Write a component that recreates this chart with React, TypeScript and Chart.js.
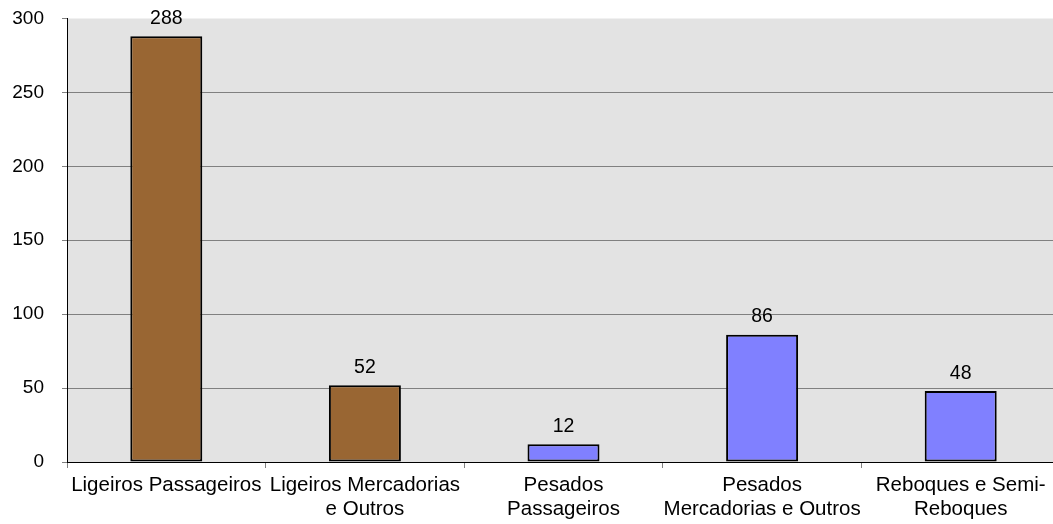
import React, { useEffect, useRef } from "react";
import { Chart, registerables } from "chart.js";

Chart.register(...registerables);

const categories: (string | string[])[] = [
  "Ligeiros Passageiros",
  ["Ligeiros Mercadorias", "e Outros"],
  ["Pesados", "Passageiros"],
  ["Pesados", "Mercadorias e Outros"],
  ["Reboques e Semi-", "Reboques"],
];
const values: number[] = [288, 52, 12, 86, 48];
const barColors: string[] = ["#996633", "#996633", "#8080FF", "#8080FF", "#8080FF"];
const yMin = 0;
const yMax = 300;
const yStep = 50;

const FONT = "'Liberation Sans', Arial, Helvetica, sans-serif";

const bgPlugin = {
  id: "plotBg",
  beforeDraw(chart: any) {
    const { ctx, chartArea } = chart;
    if (!chartArea) return;
    ctx.save();
    ctx.fillStyle = "rgb(227,227,227)";
    ctx.fillRect(chartArea.left, chartArea.top, chartArea.right - chartArea.left, chartArea.bottom - chartArea.top);
    ctx.restore();
  },
};

const valueLabelPlugin = {
  id: "valueLabels",
  afterDatasetsDraw(chart: any) {
    const { ctx } = chart;
    const meta = chart.getDatasetMeta(0);
    ctx.save();
    ctx.font = `19.5px ${FONT}`;
    ctx.fillStyle = "#000";
    ctx.textAlign = "center";
    ctx.textBaseline = "alphabetic";
    meta.data.forEach((bar: any, i: number) => {
      const v = chart.data.datasets[0].data[i];
      ctx.fillText(String(v), bar.x, bar.y - 12.5);
    });
    ctx.restore();
  },
};

export default function App() {
  const canvasRef = useRef<HTMLCanvasElement | null>(null);

  useEffect(() => {
    if (!canvasRef.current) return;
    const chart = new Chart(canvasRef.current, {
      type: "bar",
      data: {
        labels: categories,
        datasets: [
          {
            data: values,
            backgroundColor: barColors,
            borderColor: "#000",
            borderWidth: 2,
            borderSkipped: false,
            barPercentage: 0.3625,
            categoryPercentage: 1,
          },
        ],
      },
      options: {
        animation: false,
        responsive: true,
        maintainAspectRatio: false,
        layout: { padding: { top: 18.5, right: 0, left: 0, bottom: 0 } },
        plugins: {
          legend: { display: false },
          tooltip: { enabled: false },
        },
        scales: {
          x: {
            grid: {
              offset: true,
              drawOnChartArea: false,
              drawTicks: true,
              tickLength: 6,
              color: "#808080",
            },
            border: { color: "#000", width: 1 },
            ticks: {
              color: "#000",
              font: { family: FONT, size: 20.5, lineHeight: 1.15 },
              padding: 6,
              maxRotation: 0,
              autoSkip: false,
            },
            afterFit: (scale: any) => {
              scale.height = 62;
              scale.paddingLeft = 0;
              scale.paddingRight = 0;
            },
          },
          y: {
            min: yMin,
            max: yMax,
            ticks: {
              stepSize: yStep,
              color: "#000",
              font: { family: FONT, size: 19 },
              padding: 18,
            },
            grid: {
              tickLength: 5,
              color: (ctx: any) => (ctx.tick && ctx.tick.value === yMax ? "rgba(0,0,0,0)" : "#808080"),
              tickColor: "#808080",
              lineWidth: 1,
            },
            border: { color: "#000", width: 1 },
            afterFit: (scale: any) => {
              scale.width = 67;
              scale.paddingTop = 0;
              scale.paddingBottom = 0;
            },
          },
        },
      },
      plugins: [bgPlugin, valueLabelPlugin],
    });
    return () => chart.destroy();
  }, []);

  return (
    <div style={{ position: "fixed", left: 0, top: 0, width: 1053, height: 524, overflow: "hidden", background: "#fff" }}>
      <div style={{ position: "absolute", left: 0, top: 0, width: 1060, height: 524 }}>
        <canvas ref={canvasRef} />
      </div>
    </div>
  );
}
